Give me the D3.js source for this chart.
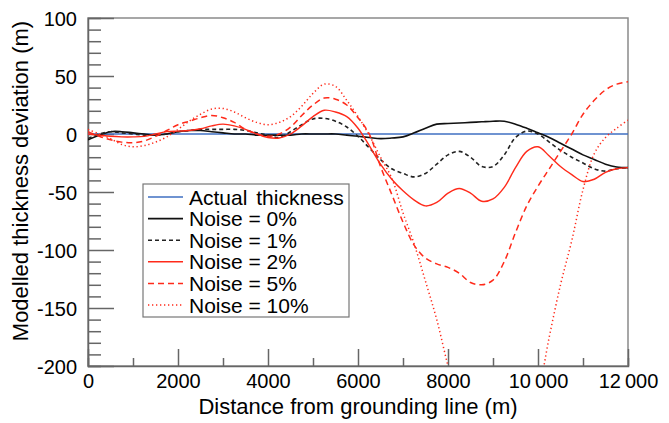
<!DOCTYPE html>
<html>
<head>
<meta charset="utf-8">
<script src="https://cdn.jsdelivr.net/npm/d3@7"></script>
<style>
  html, body { margin: 0; padding: 0; background: #fff; }
  svg { display: block; font-family: "Liberation Sans", Arial, Helvetica, sans-serif; }
</style>
</head>
<body>
<svg id="chart" width="669" height="423"></svg>
<script>
// Distance along the flowline (m), every 250 m
const distance = d3.range(0, 12001, 250);

// Deviation of modelled thickness from actual (m)
const actual = distance.map(() => 0);
const noise0 = [-5, -1, 2, 2, 1, 0, -1, 0, 2, 3, 3, 2, 1, 0, 0, -1, -1, -1, -1, 0, 0, 0, 0, -1, -2, -3, -4, -3.5, -2.5, 1, 5, 8.5, 9, 9.5, 10, 10.5, 11, 11, 8.5, 5, 1, -3, -8, -13, -18, -22, -26, -28.5, -29];
const noise1 = [-4, 0, 2, 1, 0, -1, -1, 0, 2, 3, 4, 4, 4, 4, 3, 1, -1, -3, 2, 8, 13, 13.5, 11, 6, -2, -12, -22, -30, -34, -37, -34, -26, -18, -15, -20, -28, -28, -18, -3, 2.5, 0, -7, -14, -20, -25, -30, -32, -30, -29];
const noise2 = [0, -1, -2, -2.5, -2.5, -2, 0, 2, 2.5, 3, 4.5, 7, 8.5, 7, 4, 0, -3, -3.5, 0, 7, 15, 20.5, 19, 15, 5, -10, -26, -39, -49, -57, -62, -59, -51, -47, -51, -58, -56, -46, -29, -15, -11, -19, -28, -35, -41, -39, -33, -30, -29];
const noise5 = [2, -2, -5, -7, -7.5, -6, -2, 3, 8, 11, 14, 16, 14, 10, 4, 0, -2, 0, 6, 16, 25, 31, 30, 25, 14, 0, -28, -52, -76, -96, -107, -112, -115, -120, -128, -130, -126, -110, -85, -62, -45, -30, -15, 0, 17, 29, 38, 43, 45];
const noise10 = [4, 0, -4, -9, -11, -10, -7, -2.5, 4, 11, 17, 21.5, 22, 19, 14, 10, 8, 10, 15, 24, 35, 43, 41, 29, 15, -1, -20, -38, -68, -95, -127, -160, -200, -235, -265, -285, -295, -295, -280, -255, -225, -175, -130, -92, -48, -17, -3, 5, 12];

const seriesNames = ["Actual thickness", "Noise = 0%", "Noise = 1%", "Noise = 2%", "Noise = 5%", "Noise = 10%"];
const seriesValues = [actual, noise0, noise1, noise2, noise5, noise10];

const xTicks = d3.range(0, 12001, 1000);
const xLabels = ["0", "2000", "4000", "6000", "8000", "10\u2009000", "12\u2009000"];
const yTicks = d3.range(-200, 101, 10);
const yLabels = ["-200", "-150", "-100", "-50", "0", "50", "100"];

const styles = [
  { color: "#3f6fc2", dash: null, width: 1.4 },
  { color: "#111111", dash: null, width: 1.6 },
  { color: "#222222", dash: "4,3", width: 1.6 },
  { color: "#ff2a1a", dash: null, width: 1.4 },
  { color: "#ff2a1a", dash: "6,4", width: 1.5 },
  { color: "#ff2a1a", dash: "1.3,2.7", width: 1.5 }
];

const svg = d3.select("#chart");
const plot = { left: 88, right: 628, top: 18, bottom: 366 };

const x = d3.scaleLinear().domain([0, 12000]).range([plot.left, plot.right]);
const y = d3.scaleLinear().domain([-200, 100]).range([plot.bottom, plot.top]);

svg.append("defs").append("clipPath").attr("id", "plotClip")
  .append("rect")
  .attr("x", plot.left).attr("y", plot.top)
  .attr("width", plot.right - plot.left).attr("height", plot.bottom - plot.top);

// frame
svg.append("rect")
  .attr("x", plot.left).attr("y", plot.top)
  .attr("width", plot.right - plot.left).attr("height", plot.bottom - plot.top)
  .attr("fill", "none").attr("stroke", "#8a8a8a").attr("stroke-width", 1.5);

// x axis, ticks pointing inward
const xLabelMap = new Map(xTicks.filter(d => d % 2000 === 0).map((d, i) => [d, xLabels[i]]));
const xAxis = d3.axisBottom(x)
  .tickValues(xTicks)
  .tickSize(-8)
  .tickPadding(8)
  .tickFormat(d => xLabelMap.get(d) || "");
const gx = svg.append("g").attr("transform", `translate(0,${plot.bottom})`).call(xAxis);
gx.select(".domain").attr("stroke", "#666").attr("stroke-width", 1.5);
gx.selectAll(".tick line")
  .attr("stroke", "#666").attr("stroke-width", 1.5)
  .attr("y2", d => d % 2000 === 0 ? -17 : -8);
gx.selectAll(".tick text").attr("font-size", 20).attr("fill", "#000");

// y axis, ticks pointing inward
const yLabelMap = new Map(yTicks.filter(d => d % 50 === 0).map((d, i) => [d, yLabels[i]]));
const yAxis = d3.axisLeft(y)
  .tickValues(yTicks)
  .tickSize(-13)
  .tickPadding(11)
  .tickFormat(d => yLabelMap.get(d) || "");
const gy = svg.append("g").attr("transform", `translate(${plot.left},0)`).call(yAxis);
gy.select(".domain").attr("stroke", "#666").attr("stroke-width", 1.5);
gy.selectAll(".tick line")
  .attr("stroke", "#666").attr("stroke-width", 1.5)
  .attr("x2", d => d % 50 === 0 ? 26 : 13);
gy.selectAll(".tick text").attr("font-size", 20).attr("fill", "#000").attr("dy", "0.36em");

// axis titles
svg.append("text")
  .attr("x", (plot.left + plot.right) / 2).attr("y", 414)
  .attr("text-anchor", "middle").attr("font-size", 22)
  .text("Distance from grounding line (m)");
svg.append("text")
  .attr("transform", "translate(28,181) rotate(-90)")
  .attr("text-anchor", "middle").attr("font-size", 22)
  .text("Modelled thickness deviation (m)");

// curves
const line = d3.line()
  .x((d, i) => x(distance[i]))
  .y(d => y(d))
  .curve(d3.curveCatmullRom.alpha(0.5));

const lines = svg.append("g").attr("clip-path", "url(#plotClip)");
seriesValues.forEach((vals, k) => {
  lines.append("path")
    .datum(vals)
    .attr("d", line)
    .attr("fill", "none")
    .attr("stroke", styles[k].color)
    .attr("stroke-width", styles[k].width)
    .attr("stroke-dasharray", styles[k].dash);
});

// legend
const legend = svg.append("g").attr("transform", "translate(143,184)");
legend.append("rect")
  .attr("width", 206).attr("height", 133)
  .attr("fill", "#fff").attr("stroke", "#777").attr("stroke-width", 1.2);
seriesNames.forEach((name, k) => {
  const cy = 13 + k * 21.6;
  legend.append("line")
    .attr("x1", 5).attr("x2", 40).attr("y1", cy).attr("y2", cy)
    .attr("stroke", styles[k].color).attr("stroke-width", styles[k].width)
    .attr("stroke-dasharray", styles[k].dash);
  legend.append("text")
    .attr("x", 46).attr("y", cy).attr("dy", "0.36em")
    .attr("font-size", 21)
    .attr("word-spacing", k === 0 ? 3 : 0)
    .text(name);
});
</script>
</body>
</html>
